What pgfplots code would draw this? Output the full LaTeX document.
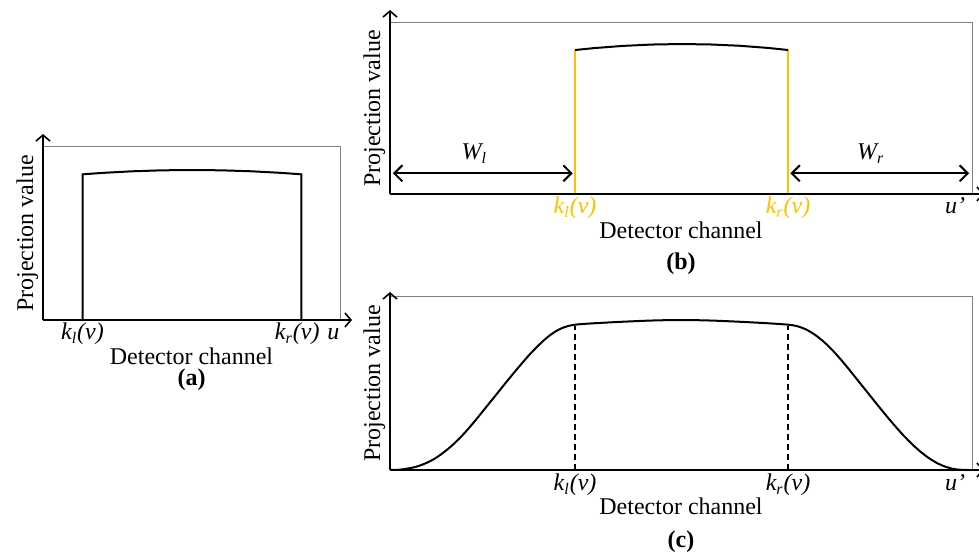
\documentclass[border=0pt,12pt]{standalone}
\usepackage{fontspec}
\setmainfont{Liberation Serif}
\usepackage{pgfplots}
\pgfplotsset{compat=1.18}
\usetikzlibrary{arrows.meta}

\definecolor{kgold}{HTML}{FFC000}
\definecolor{framegray}{gray}{0.5}

\tikzset{
  barb/.tip={Straight Barb[length=3pt,width=7pt]},
  wbarb/.tip={Straight Barb[length=4pt,width=8pt]},
}

\pgfplotsset{
  panel/.style={
    scale only axis, clip=false,
    xmin=0, xmax=100, ymin=0, ymax=100,
    axis line style={draw=none},
    ytick=\empty, major tick length=0pt,
    xticklabel style={anchor=base, yshift=-10pt},
    xlabel={Detector channel},
    ylabel={Projection value},
    xlabel style={at={(axis description cs:0.5,0)}, anchor=base, yshift=-22.5pt},
    ylabel style={at={([xshift=-5pt]axis description cs:0,0.5)}, anchor=base},
  },
}

% frame (grey top/right) and the two arrowed axes
\newcommand{\panelframe}[2]{%
  \draw[framegray, line width=0.5pt] (rel axis cs:0,1) -- (rel axis cs:1,1) -- (rel axis cs:1,0);
  \draw[line width=0.8pt, -barb] (rel axis cs:0,0) -- ([yshift=#1]rel axis cs:0,1);
  \draw[line width=0.8pt, -barb] (rel axis cs:0,0) -- ([xshift=#2]rel axis cs:1,0);
}

\begin{document}
\begin{tikzpicture}
\path[use as bounding box] (0,0) rectangle (489.5pt,278pt);

% ---------------- (a)
\begin{axis}[panel,
    at={(21.5pt,118pt)}, anchor=south west,
    width=148.5pt, height=86.5pt,
    xtick={13.3,85.6,97.8},
    xticklabels={\textit{k\textsubscript{l}(v)}, \textit{k\textsubscript{r}(v)}, \textit{u}},
]
\addplot[black, line width=1pt] coordinates {
    (13.3,0)(13.3,84.2)(20,85.03)(30,85.95)(40,86.51)(50,86.7)
    (60,86.52)(70,85.97)(80,85.06)(87.0,84.2)(87.0,0)
};
\panelframe{6.5pt}{6pt}
\node[anchor=base, font=\bfseries] at ([yshift=-33pt]rel axis cs:0.5,0) {(a)};
\end{axis}

% ---------------- (b)
\begin{axis}[panel,
    at={(195pt,181pt)}, anchor=south west,
    width=291pt, height=85.5pt,
    xtick={31.8,68.4,97.1},
    xticklabels={{\color{kgold}\textit{k\textsubscript{l}(v)}}, {\color{kgold}\textit{k\textsubscript{r}(v)}}, \textit{u'}},
]
\addplot[kgold, line width=1pt] coordinates {(31.8,0)(31.8,84.2)};
\addplot[kgold, line width=1pt] coordinates {(68.4,0)(68.4,84.2)};
\addplot[black, line width=1pt] coordinates {
    (31.8,84.2)(35,85.3)(40,86.6)(45,87.4)(50,87.7)(55,87.45)(60,86.7)(65,85.4)(68.4,84.2)
};
\addplot[black, line width=1pt, wbarb-wbarb] coordinates {(0.5,12.1)(31.4,12.1)};
\addplot[black, line width=1pt, wbarb-wbarb] coordinates {(68.8,12.1)(99.5,12.1)};
\node[anchor=base] at (axis cs:14.5,20) {\textit{W\textsubscript{l}}};
\node[anchor=base] at (axis cs:82.6,20) {\textit{W\textsubscript{r}}};
\panelframe{6.5pt}{6pt}
\node[anchor=base, font=\bfseries] at ([yshift=-38pt]rel axis cs:0.5,0) {(b)};
\end{axis}

% ---------------- (c)
\begin{axis}[panel,
    at={(195pt,43pt)}, anchor=south west,
    width=291pt, height=86.5pt,
    xtick={31.8,68.4,97.1},
    xticklabels={\textit{k\textsubscript{l}(v)}, \textit{k\textsubscript{r}(v)}, \textit{u'}},
    xticklabel style={yshift=-0.5pt},
]
\addplot[black, line width=1pt, smooth] coordinates {
    (0,0)(1.5,0.15)(3,0.8)(4.5,1.9)(6,3.7)(7.5,6.2)(9,9.6)(10.5,13.7)
    (12,18.5)(13.5,24)(15,30)(16.5,36.3)(18,42.5)(19.5,48.8)(21,55)
    (22.5,61)(24,66.8)(25.5,72)(27,76.6)(28.5,80.2)(30,82.6)(31.8,84.0)
    (35,84.8)(40,85.7)(45,86.4)(50,86.7)(55,86.4)(60,85.7)(65,84.8)
    (68.4,84.0)(70,83.1)(71.5,81.2)(73,78.2)(74.5,74.2)(76,69.3)(77.5,63.7)
    (79,57.6)(80.5,51.3)(82,45.0)(83.5,38.7)(85,32.5)(86.5,26.5)(88,20.8)
    (89.5,15.6)(91,11.0)(92.5,7.1)(94,4.0)(95.5,1.8)(97,0.5)(98.5,0.05)(99.3,0)
};
\addplot[black, line width=0.8pt, dash pattern=on 3pt off 2pt] coordinates {(31.8,0)(31.8,83.5)};
\addplot[black, line width=0.8pt, dash pattern=on 3pt off 2pt] coordinates {(68.4,0)(68.4,83.5)};
\panelframe{2.5pt}{6pt}
\node[anchor=base, font=\bfseries] at ([yshift=-38.5pt]rel axis cs:0.5,0) {(c)};
\end{axis}
\end{tikzpicture}
\end{document}
